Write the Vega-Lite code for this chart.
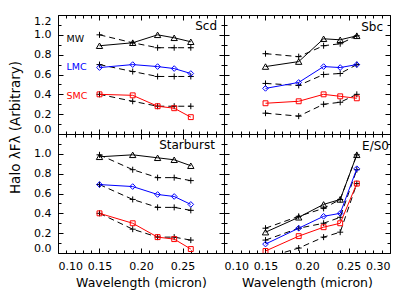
{
  "$schema": "https://vega.github.io/schema/vega-lite/v6.json",
  "padding": {"left": 8, "top": 14, "right": 5, "bottom": 5},
  "datasets": {
    "pts": [
      {"p":"Scd","s":"MW","k":"o","x":0.15,"y":0.89},{"p":"Scd","s":"MW","k":"o","x":0.19,"y":0.92},{"p":"Scd","s":"MW","k":"o","x":0.22,"y":1.00},{"p":"Scd","s":"MW","k":"o","x":0.24,"y":0.97},{"p":"Scd","s":"MW","k":"o","x":0.26,"y":0.93},
      {"p":"Scd","s":"MW","k":"r","x":0.15,"y":1.00},{"p":"Scd","s":"MW","k":"r","x":0.19,"y":0.92},{"p":"Scd","s":"MW","k":"r","x":0.22,"y":0.87},{"p":"Scd","s":"MW","k":"r","x":0.24,"y":0.87},{"p":"Scd","s":"MW","k":"r","x":0.26,"y":0.87},
      {"p":"Scd","s":"LMC","k":"o","x":0.15,"y":0.67},{"p":"Scd","s":"LMC","k":"o","x":0.19,"y":0.70},{"p":"Scd","s":"LMC","k":"o","x":0.22,"y":0.68},{"p":"Scd","s":"LMC","k":"o","x":0.24,"y":0.66},{"p":"Scd","s":"LMC","k":"o","x":0.26,"y":0.61},
      {"p":"Scd","s":"LMC","k":"r","x":0.15,"y":0.70},{"p":"Scd","s":"LMC","k":"r","x":0.19,"y":0.63},{"p":"Scd","s":"LMC","k":"r","x":0.22,"y":0.58},{"p":"Scd","s":"LMC","k":"r","x":0.24,"y":0.58},{"p":"Scd","s":"LMC","k":"r","x":0.26,"y":0.58},
      {"p":"Scd","s":"SMC","k":"o","x":0.15,"y":0.40},{"p":"Scd","s":"SMC","k":"o","x":0.19,"y":0.39},{"p":"Scd","s":"SMC","k":"o","x":0.22,"y":0.28},{"p":"Scd","s":"SMC","k":"o","x":0.24,"y":0.26},{"p":"Scd","s":"SMC","k":"o","x":0.26,"y":0.17},
      {"p":"Scd","s":"SMC","k":"r","x":0.15,"y":0.40},{"p":"Scd","s":"SMC","k":"r","x":0.19,"y":0.33},{"p":"Scd","s":"SMC","k":"r","x":0.22,"y":0.28},{"p":"Scd","s":"SMC","k":"r","x":0.24,"y":0.28},{"p":"Scd","s":"SMC","k":"r","x":0.26,"y":0.28},

      {"p":"Sbc","s":"MW","k":"o","x":0.15,"y":0.68},{"p":"Sbc","s":"MW","k":"o","x":0.19,"y":0.73},{"p":"Sbc","s":"MW","k":"o","x":0.22,"y":0.96},{"p":"Sbc","s":"MW","k":"o","x":0.24,"y":0.95},{"p":"Sbc","s":"MW","k":"o","x":0.26,"y":0.99},
      {"p":"Sbc","s":"MW","k":"r","x":0.15,"y":0.81},{"p":"Sbc","s":"MW","k":"r","x":0.19,"y":0.78},{"p":"Sbc","s":"MW","k":"r","x":0.22,"y":0.89},{"p":"Sbc","s":"MW","k":"r","x":0.24,"y":0.91},{"p":"Sbc","s":"MW","k":"r","x":0.26,"y":0.99},
      {"p":"Sbc","s":"LMC","k":"o","x":0.15,"y":0.46},{"p":"Sbc","s":"LMC","k":"o","x":0.19,"y":0.52},{"p":"Sbc","s":"LMC","k":"o","x":0.22,"y":0.68},{"p":"Sbc","s":"LMC","k":"o","x":0.24,"y":0.67},{"p":"Sbc","s":"LMC","k":"o","x":0.26,"y":0.70},
      {"p":"Sbc","s":"LMC","k":"r","x":0.15,"y":0.51},{"p":"Sbc","s":"LMC","k":"r","x":0.19,"y":0.49},{"p":"Sbc","s":"LMC","k":"r","x":0.22,"y":0.60},{"p":"Sbc","s":"LMC","k":"r","x":0.24,"y":0.61},{"p":"Sbc","s":"LMC","k":"r","x":0.26,"y":0.70},
      {"p":"Sbc","s":"SMC","k":"o","x":0.15,"y":0.31},{"p":"Sbc","s":"SMC","k":"o","x":0.19,"y":0.33},{"p":"Sbc","s":"SMC","k":"o","x":0.22,"y":0.40},{"p":"Sbc","s":"SMC","k":"o","x":0.24,"y":0.38},{"p":"Sbc","s":"SMC","k":"o","x":0.26,"y":0.36},
      {"p":"Sbc","s":"SMC","k":"r","x":0.15,"y":0.21},{"p":"Sbc","s":"SMC","k":"r","x":0.19,"y":0.18},{"p":"Sbc","s":"SMC","k":"r","x":0.22,"y":0.30},{"p":"Sbc","s":"SMC","k":"r","x":0.24,"y":0.32},{"p":"Sbc","s":"SMC","k":"r","x":0.26,"y":0.40},

      {"p":"Starburst","s":"MW","k":"o","x":0.15,"y":0.97},{"p":"Starburst","s":"MW","k":"o","x":0.19,"y":0.99},{"p":"Starburst","s":"MW","k":"o","x":0.22,"y":0.96},{"p":"Starburst","s":"MW","k":"o","x":0.24,"y":0.94},{"p":"Starburst","s":"MW","k":"o","x":0.26,"y":0.88},
      {"p":"Starburst","s":"MW","k":"r","x":0.15,"y":0.99},{"p":"Starburst","s":"MW","k":"r","x":0.19,"y":0.84},{"p":"Starburst","s":"MW","k":"r","x":0.22,"y":0.76},{"p":"Starburst","s":"MW","k":"r","x":0.24,"y":0.76},{"p":"Starburst","s":"MW","k":"r","x":0.26,"y":0.73},
      {"p":"Starburst","s":"LMC","k":"o","x":0.15,"y":0.69},{"p":"Starburst","s":"LMC","k":"o","x":0.19,"y":0.67},{"p":"Starburst","s":"LMC","k":"o","x":0.22,"y":0.59},{"p":"Starburst","s":"LMC","k":"o","x":0.24,"y":0.57},{"p":"Starburst","s":"LMC","k":"o","x":0.26,"y":0.49},
      {"p":"Starburst","s":"LMC","k":"r","x":0.15,"y":0.69},{"p":"Starburst","s":"LMC","k":"r","x":0.19,"y":0.54},{"p":"Starburst","s":"LMC","k":"r","x":0.22,"y":0.46},{"p":"Starburst","s":"LMC","k":"r","x":0.24,"y":0.46},{"p":"Starburst","s":"LMC","k":"r","x":0.26,"y":0.43},
      {"p":"Starburst","s":"SMC","k":"o","x":0.15,"y":0.40},{"p":"Starburst","s":"SMC","k":"o","x":0.19,"y":0.30},{"p":"Starburst","s":"SMC","k":"o","x":0.22,"y":0.16},{"p":"Starburst","s":"SMC","k":"o","x":0.24,"y":0.14},{"p":"Starburst","s":"SMC","k":"o","x":0.26,"y":0.04},
      {"p":"Starburst","s":"SMC","k":"r","x":0.15,"y":0.40},{"p":"Starburst","s":"SMC","k":"r","x":0.19,"y":0.24},{"p":"Starburst","s":"SMC","k":"r","x":0.22,"y":0.16},{"p":"Starburst","s":"SMC","k":"r","x":0.24,"y":0.16},{"p":"Starburst","s":"SMC","k":"r","x":0.26,"y":0.13},

      {"p":"E/S0","s":"MW","k":"o","x":0.15,"y":0.21},{"p":"E/S0","s":"MW","k":"o","x":0.19,"y":0.36},{"p":"E/S0","s":"MW","k":"o","x":0.22,"y":0.49},{"p":"E/S0","s":"MW","k":"o","x":0.24,"y":0.54},{"p":"E/S0","s":"MW","k":"o","x":0.26,"y":0.99},
      {"p":"E/S0","s":"MW","k":"r","x":0.15,"y":0.25},{"p":"E/S0","s":"MW","k":"r","x":0.19,"y":0.37},{"p":"E/S0","s":"MW","k":"r","x":0.22,"y":0.45},{"p":"E/S0","s":"MW","k":"r","x":0.24,"y":0.54},{"p":"E/S0","s":"MW","k":"r","x":0.26,"y":0.99},
      {"p":"E/S0","s":"LMC","k":"o","x":0.15,"y":0.09},{"p":"E/S0","s":"LMC","k":"o","x":0.19,"y":0.25},{"p":"E/S0","s":"LMC","k":"o","x":0.22,"y":0.37},{"p":"E/S0","s":"LMC","k":"o","x":0.24,"y":0.40},{"p":"E/S0","s":"LMC","k":"o","x":0.26,"y":0.85},
      {"p":"E/S0","s":"LMC","k":"r","x":0.15,"y":0.13},{"p":"E/S0","s":"LMC","k":"r","x":0.19,"y":0.25},{"p":"E/S0","s":"LMC","k":"r","x":0.22,"y":0.30},{"p":"E/S0","s":"LMC","k":"r","x":0.24,"y":0.36},{"p":"E/S0","s":"LMC","k":"r","x":0.26,"y":0.84},
      {"p":"E/S0","s":"SMC","k":"o","x":0.15,"y":0.02},{"p":"E/S0","s":"SMC","k":"o","x":0.19,"y":0.17},{"p":"E/S0","s":"SMC","k":"o","x":0.22,"y":0.26},{"p":"E/S0","s":"SMC","k":"o","x":0.24,"y":0.30},{"p":"E/S0","s":"SMC","k":"o","x":0.26,"y":0.70},
      {"p":"E/S0","s":"SMC","k":"r","x":0.15,"y":-0.05},{"p":"E/S0","s":"SMC","k":"r","x":0.19,"y":0.05},{"p":"E/S0","s":"SMC","k":"r","x":0.22,"y":0.16},{"p":"E/S0","s":"SMC","k":"r","x":0.24,"y":0.21},{"p":"E/S0","s":"SMC","k":"r","x":0.26,"y":0.70}
    ]
  },
  "config": {
    "font": "DejaVu Sans",
    "view": {"stroke": "black", "strokeWidth": 1},
    "axis": {"domain": false, "grid": false, "tickColor": "black", "tickWidth": 1, "labelColor": "black", "labelFont": "DejaVu Sans", "labelFontSize": 11, "labelPadding": 7, "labelOverlap": false, "titleFont": "DejaVu Sans", "titleFontSize": 12.5, "titleFontWeight": "normal", "titleColor": "black"}
  },
  "columns": 2,
  "spacing": 0,
  "bounds": "flush",
  "concat": [
    {"width": 166, "height": 119, "data": {"name": "pts"},
     "layer": [
      {"layer": [
        {"transform": [{"filter": "datum.p=='Scd' && datum.k=='r'"}],
         "mark": {"type": "line", "strokeDash": [6, 4], "strokeWidth": 1, "color": "black", "clip": true},
         "encoding": {"x": {"field": "x", "type": "quantitative", "scale": {"domain": [0.1, 0.3], "nice": false, "zero": false}, "axis": null},
                      "y": {"field": "y", "type": "quantitative", "scale": {"domain": [0, 1.2], "nice": false, "zero": false}, "axis": null},
                      "detail": {"field": "s"}}},
        {"transform": [{"filter": "datum.p=='Scd' && datum.k=='r'"}],
         "mark": {"type": "point", "shape": "M-1,0H1M0,-1V1", "size": 36, "filled": false, "color": "black", "strokeWidth": 1, "opacity": 1, "clip": true},
         "encoding": {"x": {"field": "x", "type": "quantitative", "scale": {"domain": [0.1, 0.3], "nice": false, "zero": false}, "axis": null},
                      "y": {"field": "y", "type": "quantitative", "scale": {"domain": [0, 1.2], "nice": false, "zero": false}, "axis": null}}},
        {"transform": [{"filter": "datum.p=='Scd' && datum.k=='o'"}],
         "mark": {"type": "line", "strokeWidth": 1, "clip": true},
         "encoding": {"x": {"field": "x", "type": "quantitative", "scale": {"domain": [0.1, 0.3], "nice": false, "zero": false}, "axis": null},
                      "y": {"field": "y", "type": "quantitative", "scale": {"domain": [0, 1.2], "nice": false, "zero": false}, "axis": null},
                      "color": {"field": "s", "type": "nominal", "scale": {"domain": ["MW", "LMC", "SMC"], "range": ["black", "blue", "red"]}, "legend": null}}},
        {"transform": [{"filter": "datum.p=='Scd' && datum.k=='o'"}],
         "mark": {"type": "point", "filled": false, "strokeWidth": 1, "opacity": 1, "clip": true},
         "encoding": {"x": {"field": "x", "type": "quantitative", "scale": {"domain": [0.1, 0.3], "nice": false, "zero": false}, "axis": null},
                      "y": {"field": "y", "type": "quantitative", "scale": {"domain": [0, 1.2], "nice": false, "zero": false}, "axis": null},
                      "color": {"field": "s", "type": "nominal", "scale": {"domain": ["MW", "LMC", "SMC"], "range": ["black", "blue", "red"]}, "legend": null},
                      "shape": {"field": "s", "type": "nominal", "scale": {"domain": ["MW", "LMC", "SMC"], "range": ["triangle-up", "diamond", "square"]}, "legend": null},
                      "size": {"field": "s", "type": "ordinal", "scale": {"domain": ["MW", "LMC", "SMC"], "range": [40, 24, 32]}, "legend": null}}},
        {"data": {"values": [{"t": "Scd"}]},
         "mark": {"type": "text", "align": "right", "baseline": "middle", "fontSize": 12, "color": "black"},
         "encoding": {"x": {"datum": 0.2916, "type": "quantitative", "scale": {"domain": [0.1, 0.3], "nice": false, "zero": false}, "axis": null},
                      "y": {"datum": 1.09, "type": "quantitative", "scale": {"domain": [0, 1.2], "nice": false, "zero": false}, "axis": null},
                      "text": {"field": "t"}}},
        {"data": {"values": [{"t": "MW"}]},
         "mark": {"type": "text", "align": "left", "baseline": "middle", "fontSize": 9.5, "color": "black"},
         "encoding": {"x": {"datum": 0.1102, "type": "quantitative", "scale": {"domain": [0.1, 0.3], "nice": false, "zero": false}, "axis": null},
                      "y": {"datum": 0.96, "type": "quantitative", "scale": {"domain": [0, 1.2], "nice": false, "zero": false}, "axis": null},
                      "text": {"field": "t"}}},
        {"data": {"values": [{"t": "LMC"}]},
         "mark": {"type": "text", "align": "left", "baseline": "middle", "fontSize": 9.5, "color": "blue"},
         "encoding": {"x": {"datum": 0.1102, "type": "quantitative", "scale": {"domain": [0.1, 0.3], "nice": false, "zero": false}, "axis": null},
                      "y": {"datum": 0.675, "type": "quantitative", "scale": {"domain": [0, 1.2], "nice": false, "zero": false}, "axis": null},
                      "text": {"field": "t"}}},
        {"data": {"values": [{"t": "SMC"}]},
         "mark": {"type": "text", "align": "left", "baseline": "middle", "fontSize": 9.5, "color": "red"},
         "encoding": {"x": {"datum": 0.1102, "type": "quantitative", "scale": {"domain": [0.1, 0.3], "nice": false, "zero": false}, "axis": null},
                      "y": {"datum": 0.383, "type": "quantitative", "scale": {"domain": [0, 1.2], "nice": false, "zero": false}, "axis": null},
                      "text": {"field": "t"}}}
      ]},
      {"mark": {"type": "point", "opacity": 0},
       "encoding": {
         "x": {"field": "x", "type": "quantitative", "scale": {"domain": [0.1, 0.3], "nice": false, "zero": false}, "axis": null},
         "y": {"field": "y", "type": "quantitative", "scale": {"domain": [0, 1.2], "nice": false, "zero": false},
               "axis": {"orient": "left", "values": [0, 0.2, 0.4, 0.6, 0.8, 1.0, 1.2], "ticks": false, "labelFlush": true, "labelOverlap": false, "labelExpr": "format(datum.value, '.1f')",
                        "title": "Halo λFλ (Arbitrary)", "titleY": 112, "titlePadding": 11, "titleFontSize": 13.5}}}},
      {"mark": {"type": "point", "opacity": 0},
       "encoding": {
         "x": {"field": "x", "type": "quantitative", "scale": {"domain": [0.1, 0.3], "nice": false, "zero": false},
               "axis": {"orient": "bottom", "values": [0.10,0.11,0.12,0.13,0.14,0.15,0.16,0.17,0.18,0.19,0.20,0.21,0.22,0.23,0.24,0.25,0.26,0.27,0.28,0.29,0.30], "labels": false, "title": null, "ticks": true, "tickSize": 5, "offset": -5,
                        "tickDash": {"condition": {"test": "abs(datum.value*20-round(datum.value*20))>0.001", "value": [0, 2, 3, 20]}, "value": [10, 0]}}},
         "y": {"field": "y", "type": "quantitative", "scale": {"domain": [0, 1.2], "nice": false, "zero": false},
               "axis": {"orient": "left", "values": [0,0.1,0.2,0.3,0.4,0.5,0.6,0.7,0.8,0.9,1.0,1.1,1.2], "labels": false, "title": null, "ticks": true, "tickSize": 5, "offset": -5,
                        "tickDash": {"condition": {"test": "abs(datum.value*5-round(datum.value*5))>0.001", "value": [0, 2, 3, 20]}, "value": [10, 0]}}}}},
      {"mark": {"type": "point", "opacity": 0},
       "encoding": {
         "x": {"field": "x", "type": "quantitative", "scale": {"domain": [0.1, 0.3], "nice": false, "zero": false},
               "axis": {"orient": "top", "values": [0.10,0.11,0.12,0.13,0.14,0.15,0.16,0.17,0.18,0.19,0.20,0.21,0.22,0.23,0.24,0.25,0.26,0.27,0.28,0.29,0.30], "labels": false, "title": null, "ticks": true, "tickSize": 5, "offset": -5,
                        "tickDash": {"condition": {"test": "abs(datum.value*20-round(datum.value*20))>0.001", "value": [0, 2, 3, 20]}, "value": [10, 0]}}},
         "y": {"field": "y", "type": "quantitative", "scale": {"domain": [0, 1.2], "nice": false, "zero": false},
               "axis": {"orient": "right", "values": [0,0.1,0.2,0.3,0.4,0.5,0.6,0.7,0.8,0.9,1.0,1.1,1.2], "labels": false, "title": null, "ticks": true, "tickSize": 5, "offset": -5,
                        "tickDash": {"condition": {"test": "abs(datum.value*5-round(datum.value*5))>0.001", "value": [0, 2, 3, 20]}, "value": [10, 0]}}}}}
     ],
     "resolve": {"axis": {"x": "independent", "y": "independent"}}},

    {"width": 166, "height": 119, "data": {"name": "pts"},
     "layer": [
      {"layer": [
        {"transform": [{"filter": "datum.p=='Sbc' && datum.k=='r'"}],
         "mark": {"type": "line", "strokeDash": [6, 4], "strokeWidth": 1, "color": "black", "clip": true},
         "encoding": {"x": {"field": "x", "type": "quantitative", "scale": {"domain": [0.1, 0.3], "nice": false, "zero": false}, "axis": null},
                      "y": {"field": "y", "type": "quantitative", "scale": {"domain": [0, 1.2], "nice": false, "zero": false}, "axis": null},
                      "detail": {"field": "s"}}},
        {"transform": [{"filter": "datum.p=='Sbc' && datum.k=='r'"}],
         "mark": {"type": "point", "shape": "M-1,0H1M0,-1V1", "size": 36, "filled": false, "color": "black", "strokeWidth": 1, "opacity": 1, "clip": true},
         "encoding": {"x": {"field": "x", "type": "quantitative", "scale": {"domain": [0.1, 0.3], "nice": false, "zero": false}, "axis": null},
                      "y": {"field": "y", "type": "quantitative", "scale": {"domain": [0, 1.2], "nice": false, "zero": false}, "axis": null}}},
        {"transform": [{"filter": "datum.p=='Sbc' && datum.k=='o'"}],
         "mark": {"type": "line", "strokeWidth": 1, "clip": true},
         "encoding": {"x": {"field": "x", "type": "quantitative", "scale": {"domain": [0.1, 0.3], "nice": false, "zero": false}, "axis": null},
                      "y": {"field": "y", "type": "quantitative", "scale": {"domain": [0, 1.2], "nice": false, "zero": false}, "axis": null},
                      "color": {"field": "s", "type": "nominal", "scale": {"domain": ["MW", "LMC", "SMC"], "range": ["black", "blue", "red"]}, "legend": null}}},
        {"transform": [{"filter": "datum.p=='Sbc' && datum.k=='o'"}],
         "mark": {"type": "point", "filled": false, "strokeWidth": 1, "opacity": 1, "clip": true},
         "encoding": {"x": {"field": "x", "type": "quantitative", "scale": {"domain": [0.1, 0.3], "nice": false, "zero": false}, "axis": null},
                      "y": {"field": "y", "type": "quantitative", "scale": {"domain": [0, 1.2], "nice": false, "zero": false}, "axis": null},
                      "color": {"field": "s", "type": "nominal", "scale": {"domain": ["MW", "LMC", "SMC"], "range": ["black", "blue", "red"]}, "legend": null},
                      "shape": {"field": "s", "type": "nominal", "scale": {"domain": ["MW", "LMC", "SMC"], "range": ["triangle-up", "diamond", "square"]}, "legend": null},
                      "size": {"field": "s", "type": "ordinal", "scale": {"domain": ["MW", "LMC", "SMC"], "range": [40, 24, 32]}, "legend": null}}},
        {"data": {"values": [{"t": "Sbc"}]},
         "mark": {"type": "text", "align": "right", "baseline": "middle", "fontSize": 12, "color": "black"},
         "encoding": {"x": {"datum": 0.2916, "type": "quantitative", "scale": {"domain": [0.1, 0.3], "nice": false, "zero": false}, "axis": null},
                      "y": {"datum": 1.08, "type": "quantitative", "scale": {"domain": [0, 1.2], "nice": false, "zero": false}, "axis": null},
                      "text": {"field": "t"}}}
      ]},
      {"mark": {"type": "point", "opacity": 0},
       "encoding": {
         "x": {"field": "x", "type": "quantitative", "scale": {"domain": [0.1, 0.3], "nice": false, "zero": false},
               "axis": {"orient": "bottom", "values": [0.10,0.11,0.12,0.13,0.14,0.15,0.16,0.17,0.18,0.19,0.20,0.21,0.22,0.23,0.24,0.25,0.26,0.27,0.28,0.29,0.30], "labels": false, "title": null, "ticks": true, "tickSize": 5, "offset": -5,
                        "tickDash": {"condition": {"test": "abs(datum.value*20-round(datum.value*20))>0.001", "value": [0, 2, 3, 20]}, "value": [10, 0]}}},
         "y": {"field": "y", "type": "quantitative", "scale": {"domain": [0, 1.2], "nice": false, "zero": false},
               "axis": {"orient": "left", "values": [0,0.1,0.2,0.3,0.4,0.5,0.6,0.7,0.8,0.9,1.0,1.1,1.2], "labels": false, "title": null, "ticks": true, "tickSize": 5, "offset": -5,
                        "tickDash": {"condition": {"test": "abs(datum.value*5-round(datum.value*5))>0.001", "value": [0, 2, 3, 20]}, "value": [10, 0]}}}}},
      {"mark": {"type": "point", "opacity": 0},
       "encoding": {
         "x": {"field": "x", "type": "quantitative", "scale": {"domain": [0.1, 0.3], "nice": false, "zero": false},
               "axis": {"orient": "top", "values": [0.10,0.11,0.12,0.13,0.14,0.15,0.16,0.17,0.18,0.19,0.20,0.21,0.22,0.23,0.24,0.25,0.26,0.27,0.28,0.29,0.30], "labels": false, "title": null, "ticks": true, "tickSize": 5, "offset": -5,
                        "tickDash": {"condition": {"test": "abs(datum.value*20-round(datum.value*20))>0.001", "value": [0, 2, 3, 20]}, "value": [10, 0]}}},
         "y": {"field": "y", "type": "quantitative", "scale": {"domain": [0, 1.2], "nice": false, "zero": false},
               "axis": {"orient": "right", "values": [0,0.1,0.2,0.3,0.4,0.5,0.6,0.7,0.8,0.9,1.0,1.1,1.2], "labels": false, "title": null, "ticks": true, "tickSize": 5, "offset": -5,
                        "tickDash": {"condition": {"test": "abs(datum.value*5-round(datum.value*5))>0.001", "value": [0, 2, 3, 20]}, "value": [10, 0]}}}}}
     ],
     "resolve": {"axis": {"x": "independent", "y": "independent"}}},

    {"width": 166, "height": 119, "data": {"name": "pts"},
     "layer": [
      {"layer": [
        {"transform": [{"filter": "datum.p=='Starburst' && datum.k=='r'"}],
         "mark": {"type": "line", "strokeDash": [6, 4], "strokeWidth": 1, "color": "black", "clip": true},
         "encoding": {"x": {"field": "x", "type": "quantitative", "scale": {"domain": [0.1, 0.3], "nice": false, "zero": false}, "axis": null},
                      "y": {"field": "y", "type": "quantitative", "scale": {"domain": [0, 1.2], "nice": false, "zero": false}, "axis": null},
                      "detail": {"field": "s"}}},
        {"transform": [{"filter": "datum.p=='Starburst' && datum.k=='r'"}],
         "mark": {"type": "point", "shape": "M-1,0H1M0,-1V1", "size": 36, "filled": false, "color": "black", "strokeWidth": 1, "opacity": 1, "clip": true},
         "encoding": {"x": {"field": "x", "type": "quantitative", "scale": {"domain": [0.1, 0.3], "nice": false, "zero": false}, "axis": null},
                      "y": {"field": "y", "type": "quantitative", "scale": {"domain": [0, 1.2], "nice": false, "zero": false}, "axis": null}}},
        {"transform": [{"filter": "datum.p=='Starburst' && datum.k=='o'"}],
         "mark": {"type": "line", "strokeWidth": 1, "clip": true},
         "encoding": {"x": {"field": "x", "type": "quantitative", "scale": {"domain": [0.1, 0.3], "nice": false, "zero": false}, "axis": null},
                      "y": {"field": "y", "type": "quantitative", "scale": {"domain": [0, 1.2], "nice": false, "zero": false}, "axis": null},
                      "color": {"field": "s", "type": "nominal", "scale": {"domain": ["MW", "LMC", "SMC"], "range": ["black", "blue", "red"]}, "legend": null}}},
        {"transform": [{"filter": "datum.p=='Starburst' && datum.k=='o'"}],
         "mark": {"type": "point", "filled": false, "strokeWidth": 1, "opacity": 1, "clip": true},
         "encoding": {"x": {"field": "x", "type": "quantitative", "scale": {"domain": [0.1, 0.3], "nice": false, "zero": false}, "axis": null},
                      "y": {"field": "y", "type": "quantitative", "scale": {"domain": [0, 1.2], "nice": false, "zero": false}, "axis": null},
                      "color": {"field": "s", "type": "nominal", "scale": {"domain": ["MW", "LMC", "SMC"], "range": ["black", "blue", "red"]}, "legend": null},
                      "shape": {"field": "s", "type": "nominal", "scale": {"domain": ["MW", "LMC", "SMC"], "range": ["triangle-up", "diamond", "square"]}, "legend": null},
                      "size": {"field": "s", "type": "ordinal", "scale": {"domain": ["MW", "LMC", "SMC"], "range": [40, 24, 32]}, "legend": null}}},
        {"data": {"values": [{"t": "Starburst"}]},
         "mark": {"type": "text", "align": "right", "baseline": "middle", "fontSize": 12, "color": "black"},
         "encoding": {"x": {"datum": 0.289, "type": "quantitative", "scale": {"domain": [0.1, 0.3], "nice": false, "zero": false}, "axis": null},
                      "y": {"datum": 1.09, "type": "quantitative", "scale": {"domain": [0, 1.2], "nice": false, "zero": false}, "axis": null},
                      "text": {"field": "t"}}}
      ]},
      {"mark": {"type": "point", "opacity": 0},
       "encoding": {
         "x": {"field": "x", "type": "quantitative", "scale": {"domain": [0.1, 0.3], "nice": false, "zero": false},
               "axis": {"orient": "bottom", "values": [0.10, 0.15, 0.20, 0.25], "ticks": false, "labelOverlap": false, "labelExpr": "format(datum.value, '.2f')", "title": "Wavelength (micron)", "titlePadding": 5}},
         "y": {"field": "y", "type": "quantitative", "scale": {"domain": [0, 1.2], "nice": false, "zero": false},
               "axis": {"orient": "left", "values": [0, 0.2, 0.4, 0.6, 0.8, 1.0], "ticks": false, "labelFlush": true, "labelOverlap": false, "labelExpr": "format(datum.value, '.1f')", "title": null}}}},
      {"mark": {"type": "point", "opacity": 0},
       "encoding": {
         "x": {"field": "x", "type": "quantitative", "scale": {"domain": [0.1, 0.3], "nice": false, "zero": false},
               "axis": {"orient": "bottom", "values": [0.10,0.11,0.12,0.13,0.14,0.15,0.16,0.17,0.18,0.19,0.20,0.21,0.22,0.23,0.24,0.25,0.26,0.27,0.28,0.29,0.30], "labels": false, "title": null, "ticks": true, "tickSize": 5, "offset": -5,
                        "tickDash": {"condition": {"test": "abs(datum.value*20-round(datum.value*20))>0.001", "value": [0, 2, 3, 20]}, "value": [10, 0]}}},
         "y": {"field": "y", "type": "quantitative", "scale": {"domain": [0, 1.2], "nice": false, "zero": false},
               "axis": {"orient": "left", "values": [0,0.1,0.2,0.3,0.4,0.5,0.6,0.7,0.8,0.9,1.0,1.1,1.2], "labels": false, "title": null, "ticks": true, "tickSize": 5, "offset": -5,
                        "tickDash": {"condition": {"test": "abs(datum.value*5-round(datum.value*5))>0.001", "value": [0, 2, 3, 20]}, "value": [10, 0]}}}}},
      {"mark": {"type": "point", "opacity": 0},
       "encoding": {
         "x": {"field": "x", "type": "quantitative", "scale": {"domain": [0.1, 0.3], "nice": false, "zero": false},
               "axis": {"orient": "top", "values": [0.10,0.11,0.12,0.13,0.14,0.15,0.16,0.17,0.18,0.19,0.20,0.21,0.22,0.23,0.24,0.25,0.26,0.27,0.28,0.29,0.30], "labels": false, "title": null, "ticks": true, "tickSize": 5, "offset": -5,
                        "tickDash": {"condition": {"test": "abs(datum.value*20-round(datum.value*20))>0.001", "value": [0, 2, 3, 20]}, "value": [10, 0]}}},
         "y": {"field": "y", "type": "quantitative", "scale": {"domain": [0, 1.2], "nice": false, "zero": false},
               "axis": {"orient": "right", "values": [0,0.1,0.2,0.3,0.4,0.5,0.6,0.7,0.8,0.9,1.0,1.1,1.2], "labels": false, "title": null, "ticks": true, "tickSize": 5, "offset": -5,
                        "tickDash": {"condition": {"test": "abs(datum.value*5-round(datum.value*5))>0.001", "value": [0, 2, 3, 20]}, "value": [10, 0]}}}}}
     ],
     "resolve": {"axis": {"x": "independent", "y": "independent"}}},

    {"width": 166, "height": 119, "data": {"name": "pts"},
     "layer": [
      {"layer": [
        {"transform": [{"filter": "datum.p=='E/S0' && datum.k=='r'"}],
         "mark": {"type": "line", "strokeDash": [6, 4], "strokeWidth": 1, "color": "black", "clip": true},
         "encoding": {"x": {"field": "x", "type": "quantitative", "scale": {"domain": [0.1, 0.3], "nice": false, "zero": false}, "axis": null},
                      "y": {"field": "y", "type": "quantitative", "scale": {"domain": [0, 1.2], "nice": false, "zero": false}, "axis": null},
                      "detail": {"field": "s"}}},
        {"transform": [{"filter": "datum.p=='E/S0' && datum.k=='r'"}],
         "mark": {"type": "point", "shape": "M-1,0H1M0,-1V1", "size": 36, "filled": false, "color": "black", "strokeWidth": 1, "opacity": 1, "clip": true},
         "encoding": {"x": {"field": "x", "type": "quantitative", "scale": {"domain": [0.1, 0.3], "nice": false, "zero": false}, "axis": null},
                      "y": {"field": "y", "type": "quantitative", "scale": {"domain": [0, 1.2], "nice": false, "zero": false}, "axis": null}}},
        {"transform": [{"filter": "datum.p=='E/S0' && datum.k=='o'"}],
         "mark": {"type": "line", "strokeWidth": 1, "clip": true},
         "encoding": {"x": {"field": "x", "type": "quantitative", "scale": {"domain": [0.1, 0.3], "nice": false, "zero": false}, "axis": null},
                      "y": {"field": "y", "type": "quantitative", "scale": {"domain": [0, 1.2], "nice": false, "zero": false}, "axis": null},
                      "color": {"field": "s", "type": "nominal", "scale": {"domain": ["MW", "LMC", "SMC"], "range": ["black", "blue", "red"]}, "legend": null}}},
        {"transform": [{"filter": "datum.p=='E/S0' && datum.k=='o'"}],
         "mark": {"type": "point", "filled": false, "strokeWidth": 1, "opacity": 1, "clip": true},
         "encoding": {"x": {"field": "x", "type": "quantitative", "scale": {"domain": [0.1, 0.3], "nice": false, "zero": false}, "axis": null},
                      "y": {"field": "y", "type": "quantitative", "scale": {"domain": [0, 1.2], "nice": false, "zero": false}, "axis": null},
                      "color": {"field": "s", "type": "nominal", "scale": {"domain": ["MW", "LMC", "SMC"], "range": ["black", "blue", "red"]}, "legend": null},
                      "shape": {"field": "s", "type": "nominal", "scale": {"domain": ["MW", "LMC", "SMC"], "range": ["triangle-up", "diamond", "square"]}, "legend": null},
                      "size": {"field": "s", "type": "ordinal", "scale": {"domain": ["MW", "LMC", "SMC"], "range": [40, 24, 32]}, "legend": null}}},
        {"data": {"values": [{"t": "E/S0"}]},
         "mark": {"type": "text", "align": "right", "baseline": "middle", "fontSize": 12, "color": "black"},
         "encoding": {"x": {"datum": 0.2988, "type": "quantitative", "scale": {"domain": [0.1, 0.3], "nice": false, "zero": false}, "axis": null},
                      "y": {"datum": 1.08, "type": "quantitative", "scale": {"domain": [0, 1.2], "nice": false, "zero": false}, "axis": null},
                      "text": {"field": "t"}}}
      ]},
      {"mark": {"type": "point", "opacity": 0},
       "encoding": {
         "x": {"field": "x", "type": "quantitative", "scale": {"domain": [0.1, 0.3], "nice": false, "zero": false},
               "axis": {"orient": "bottom", "values": [0.10, 0.15, 0.20, 0.25, 0.30], "ticks": false, "labelOverlap": false, "labelExpr": "format(datum.value, '.2f')", "title": "Wavelength (micron)", "titlePadding": 5}},
         "y": {"field": "y", "type": "quantitative", "scale": {"domain": [0, 1.2], "nice": false, "zero": false}, "axis": null}}},
      {"mark": {"type": "point", "opacity": 0},
       "encoding": {
         "x": {"field": "x", "type": "quantitative", "scale": {"domain": [0.1, 0.3], "nice": false, "zero": false},
               "axis": {"orient": "bottom", "values": [0.10,0.11,0.12,0.13,0.14,0.15,0.16,0.17,0.18,0.19,0.20,0.21,0.22,0.23,0.24,0.25,0.26,0.27,0.28,0.29,0.30], "labels": false, "title": null, "ticks": true, "tickSize": 5, "offset": -5,
                        "tickDash": {"condition": {"test": "abs(datum.value*20-round(datum.value*20))>0.001", "value": [0, 2, 3, 20]}, "value": [10, 0]}}},
         "y": {"field": "y", "type": "quantitative", "scale": {"domain": [0, 1.2], "nice": false, "zero": false},
               "axis": {"orient": "left", "values": [0,0.1,0.2,0.3,0.4,0.5,0.6,0.7,0.8,0.9,1.0,1.1,1.2], "labels": false, "title": null, "ticks": true, "tickSize": 5, "offset": -5,
                        "tickDash": {"condition": {"test": "abs(datum.value*5-round(datum.value*5))>0.001", "value": [0, 2, 3, 20]}, "value": [10, 0]}}}}},
      {"mark": {"type": "point", "opacity": 0},
       "encoding": {
         "x": {"field": "x", "type": "quantitative", "scale": {"domain": [0.1, 0.3], "nice": false, "zero": false},
               "axis": {"orient": "top", "values": [0.10,0.11,0.12,0.13,0.14,0.15,0.16,0.17,0.18,0.19,0.20,0.21,0.22,0.23,0.24,0.25,0.26,0.27,0.28,0.29,0.30], "labels": false, "title": null, "ticks": true, "tickSize": 5, "offset": -5,
                        "tickDash": {"condition": {"test": "abs(datum.value*20-round(datum.value*20))>0.001", "value": [0, 2, 3, 20]}, "value": [10, 0]}}},
         "y": {"field": "y", "type": "quantitative", "scale": {"domain": [0, 1.2], "nice": false, "zero": false},
               "axis": {"orient": "right", "values": [0,0.1,0.2,0.3,0.4,0.5,0.6,0.7,0.8,0.9,1.0,1.1,1.2], "labels": false, "title": null, "ticks": true, "tickSize": 5, "offset": -5,
                        "tickDash": {"condition": {"test": "abs(datum.value*5-round(datum.value*5))>0.001", "value": [0, 2, 3, 20]}, "value": [10, 0]}}}}}
     ],
     "resolve": {"axis": {"x": "independent", "y": "independent"}}}
  ]
}
